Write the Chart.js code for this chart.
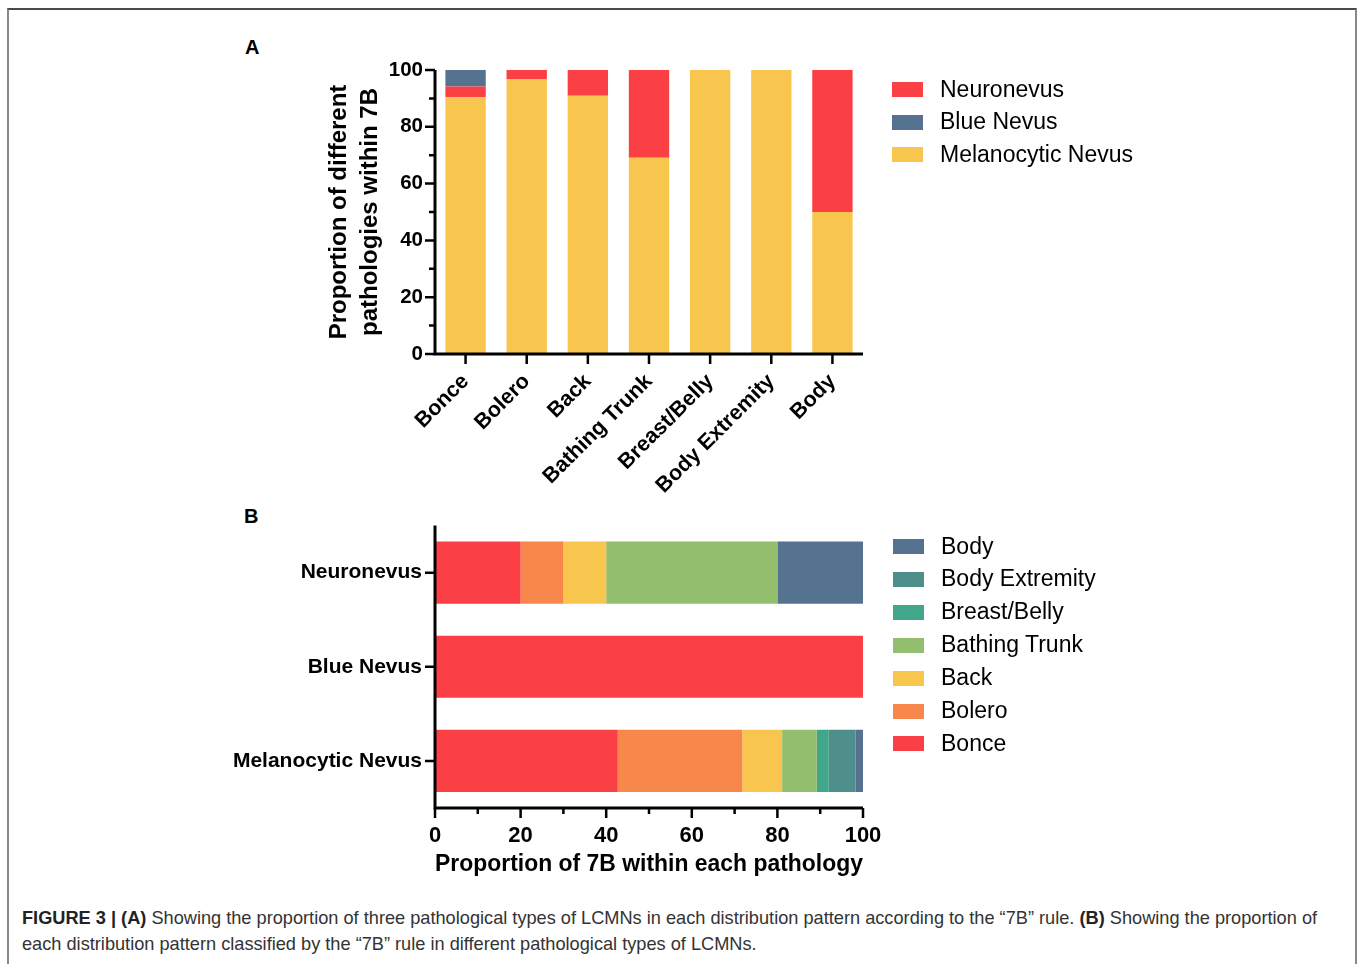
<!DOCTYPE html>
<html>
<head>
<meta charset="utf-8">
<script src="https://cdn.jsdelivr.net/npm/chart.js@4"></script>
<style>
  html,body{margin:0;padding:0;background:#fff;}
  body{width:1358px;height:964px;position:relative;overflow:hidden;font-family:"Liberation Sans",Arial,Helvetica,sans-serif;}
  #frame{position:absolute;left:7px;top:8px;width:1350px;height:980px;border-top:2px solid #4a4a4a;border-left:2px solid #888;border-right:2px solid #888;box-sizing:border-box;}
  .cv{position:absolute;}
  .panel{position:absolute;font-weight:bold;font-size:20px;color:#000;}
  .legend{position:absolute;font-size:23px;color:#000;}
  .legend .box{position:absolute;left:0;width:31px;height:15px;}
  .legend .lab{position:absolute;line-height:1;white-space:nowrap;}
  #caption{position:absolute;left:22px;top:905px;font-size:18.2px;line-height:26px;color:#333;white-space:nowrap;}
  #caption b{color:#222;}
</style>
</head>
<body>
<div id="frame"></div>
<div class="panel" style="left:245px;top:36px;">A</div>
<div class="panel" style="left:244px;top:505px;">B</div>
<canvas id="chartA" class="cv" style="left:220px;top:30px;" width="700" height="470"></canvas>
<canvas id="chartB" class="cv" style="left:220px;top:500px;" width="700" height="390"></canvas>
<div id="legendA" class="legend" style="left:892px;top:0px;"></div>
<div id="legendB" class="legend" style="left:893px;top:0px;"></div>
<div id="caption"><b>FIGURE 3 | (A)</b> Showing the proportion of three pathological types of LCMNs in each distribution pattern according to the “7B” rule. <b>(B)</b> Showing the proportion of<br>each distribution pattern classified by the “7B” rule in different pathological types of LCMNs.</div>
<script>
// ---------- Data: panel A ----------
const patternsA = ['Bonce', 'Bolero', 'Back', 'Bathing Trunk', 'Breast/Belly', 'Body Extremity', 'Body'];
const melanocyticA = [90.4, 96.8, 90.9, 69.1, 100, 100, 50];
const neuronevusA  = [3.8, 3.2, 9.1, 30.9, 0, 0, 50];
const blueNevusA   = [5.8, 0, 0, 0, 0, 0, 0];
const yTicksA = [0, 20, 40, 60, 80, 100];

// ---------- Data: panel B ----------
const pathologiesB = ['Neuronevus', 'Blue Nevus', 'Melanocytic Nevus'];
const bonceB    = [20, 100, 42.7];
const boleroB   = [10, 0, 29.1];
const backB     = [10, 0, 9.3];
const bathingB  = [40, 0, 8.1];
const breastB   = [0, 0, 2.8];
const bodyExtB  = [0, 0, 6.3];
const bodyB     = [20, 0, 1.7];
const xTicksB = [0, 20, 40, 60, 80, 100];

// ---------- Colours ----------
const C = {
  red: '#FB4045', blue: '#557391', yellow: '#F8C64E', orange: '#F7874A',
  green: '#92BE6D', tealGreen: '#40A78A', teal: '#4E8F8B'
};

const FONT = '"Liberation Sans", Arial, Helvetica, sans-serif';

// Axis lines + major/minor tick marks drawn from the chart's own scales
function makeAxisPlugin(valueAxisId, catAxisId, horizontalValue) {
  return {
    id: 'axisMarks',
    afterDraw(chart) {
      const ctx = chart.ctx, a = chart.chartArea;
      const vs = chart.scales[valueAxisId], cs = chart.scales[catAxisId];
      ctx.save();
      ctx.strokeStyle = '#000';
      ctx.lineCap = 'butt';
      ctx.lineWidth = 3;
      ctx.beginPath();
      ctx.moveTo(a.left, a.top); ctx.lineTo(a.left, a.bottom + 1.5);
      ctx.moveTo(a.left - 1.5, a.bottom); ctx.lineTo(a.right, a.bottom);
      ctx.stroke();
      ctx.lineWidth = 2.5;
      ctx.beginPath();
      for (let v = vs.min; v <= vs.max; v += 10) {
        const len = (v % 20 === 0) ? 10 : 6;
        const p = vs.getPixelForValue(v);
        if (!horizontalValue) { ctx.moveTo(a.left - len, p); ctx.lineTo(a.left, p); }
        else { ctx.moveTo(p, a.bottom); ctx.lineTo(p, a.bottom + len); }
      }
      const n = chart.data.labels.length;
      for (let i = 0; i < n; i++) {
        const p = cs.getPixelForValue(i);
        if (!horizontalValue) { ctx.moveTo(p, a.bottom); ctx.lineTo(p, a.bottom + 10); }
        else { ctx.moveTo(a.left - 10, p); ctx.lineTo(a.left, p); }
      }
      ctx.stroke();
      ctx.restore();
    }
  };
}

// ---------- Chart A ----------
new Chart(document.getElementById('chartA'), {
  type: 'bar',
  data: {
    labels: patternsA,
    datasets: [
      { label: 'Melanocytic Nevus', data: melanocyticA, backgroundColor: C.yellow },
      { label: 'Neuronevus', data: neuronevusA, backgroundColor: C.red },
      { label: 'Blue Nevus', data: blueNevusA, backgroundColor: C.blue }
    ]
  },
  options: {
    responsive: false, animation: false,
    layout: { padding: { top: 40, right: 57, left: 0, bottom: 0 } },
    datasets: { bar: { barPercentage: 0.66, categoryPercentage: 1.0, borderWidth: 0 } },
    plugins: { legend: { display: false }, tooltip: { enabled: false } },
    scales: {
      x: {
        stacked: true,
        grid: { display: false, drawTicks: false },
        border: { display: false },
        ticks: { color: '#000', font: { family: FONT, size: 21.5, weight: 'bold' }, maxRotation: 45, minRotation: 45, padding: 15, autoSkip: false },
        afterFit(s) { s.height = 146; }
      },
      y: {
        stacked: true, min: 0, max: 100,
        grid: { display: false, drawTicks: false },
        border: { display: false },
        afterBuildTicks(s) { s.ticks = yTicksA.map(v => ({ value: v })); },
        ticks: { color: '#000', font: { family: FONT, size: 20.5, weight: 'bold' }, padding: 12 },
        title: { display: true, text: ['Proportion of different', 'pathologies within 7B'], color: '#000',
                 font: { family: FONT, size: 24, weight: 'bold', lineHeight: 1.3 }, padding: { top: 104, bottom: 0 } },
        afterFit(s) { s.width = 215; }
      }
    }
  },
  plugins: [makeAxisPlugin('y', 'x', false)]
});

// ---------- Chart B ----------
new Chart(document.getElementById('chartB'), {
  type: 'bar',
  data: {
    labels: pathologiesB,
    datasets: [
      { label: 'Bonce', data: bonceB, backgroundColor: C.red },
      { label: 'Bolero', data: boleroB, backgroundColor: C.orange },
      { label: 'Back', data: backB, backgroundColor: C.yellow },
      { label: 'Bathing Trunk', data: bathingB, backgroundColor: C.green },
      { label: 'Breast/Belly', data: breastB, backgroundColor: C.tealGreen },
      { label: 'Body Extremity', data: bodyExtB, backgroundColor: C.teal },
      { label: 'Body', data: bodyB, backgroundColor: C.blue }
    ]
  },
  options: {
    indexAxis: 'y',
    responsive: false, animation: false,
    layout: { padding: { top: 21, right: 57, left: 0, bottom: 0 } },
    datasets: { bar: { barPercentage: 0.66, categoryPercentage: 1.0, borderWidth: 0 } },
    plugins: { legend: { display: false }, tooltip: { enabled: false } },
    scales: {
      x: {
        stacked: true, min: 0, max: 100,
        grid: { display: false, drawTicks: false },
        border: { display: false },
        afterBuildTicks(s) { s.ticks = xTicksB.map(v => ({ value: v })); },
        ticks: { color: '#000', font: { family: FONT, size: 22, weight: 'bold' }, padding: 15 },
        title: { display: true, text: 'Proportion of 7B within each pathology', color: '#000',
                 font: { family: FONT, size: 24.7, weight: 'bold', lineHeight: 1.2 }, padding: { top: 0, bottom: 11 } },
        afterFit(s) { s.height = 82; }
      },
      y: {
        stacked: true,
        grid: { display: false, drawTicks: false },
        border: { display: false },
        ticks: { color: '#000', font: { family: FONT, size: 21, weight: 'bold' }, padding: 13 },
        afterFit(s) { s.width = 215; }
      }
    }
  },
  plugins: [makeAxisPlugin('x', 'y', true)]
});

// ---------- HTML legends ----------
function buildLegend(el, items, startY, step) {
  items.forEach((it, i) => {
    const cy = startY + i * step;
    const box = document.createElement('div');
    box.className = 'box';
    box.style.top = (cy - 7.5) + 'px';
    box.style.background = it.color;
    el.appendChild(box);
    const lab = document.createElement('div');
    lab.className = 'lab';
    lab.style.left = '48px';
    lab.style.top = (cy - 12) + 'px';
    lab.textContent = it.label;
    el.appendChild(lab);
  });
}
buildLegend(document.getElementById('legendA'), [
  { label: 'Neuronevus', color: C.red },
  { label: 'Blue Nevus', color: C.blue },
  { label: 'Melanocytic Nevus', color: C.yellow }
], 89.5, 32.5);
buildLegend(document.getElementById('legendB'), [
  { label: 'Body', color: C.blue },
  { label: 'Body Extremity', color: C.teal },
  { label: 'Breast/Belly', color: C.tealGreen },
  { label: 'Bathing Trunk', color: C.green },
  { label: 'Back', color: C.yellow },
  { label: 'Bolero', color: C.orange },
  { label: 'Bonce', color: C.red }
], 546.5, 32.9);
</script>
</body>
</html>
